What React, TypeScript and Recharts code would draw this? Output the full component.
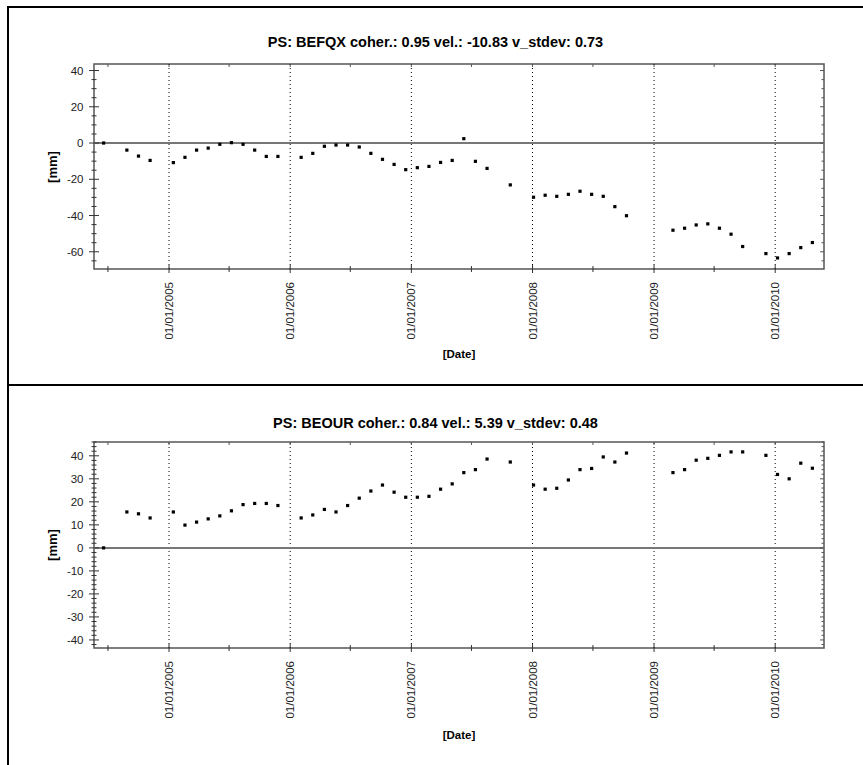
import { ScatterChart, Scatter, XAxis, YAxis, ReferenceLine, ReferenceArea } from "recharts";

// acquisition dates, shared by both PS points
const DATES = [
  "2004-06-18", "2004-08-27", "2004-10-01", "2004-11-05",
  "2005-01-14", "2005-02-18", "2005-03-25", "2005-04-29", "2005-06-03", "2005-07-08",
  "2005-08-12", "2005-09-16", "2005-10-21", "2005-11-25",
  "2006-02-03", "2006-03-10", "2006-04-14", "2006-05-19", "2006-06-23", "2006-07-28",
  "2006-09-01", "2006-10-06", "2006-11-10", "2006-12-15",
  "2007-01-19", "2007-02-23", "2007-03-30", "2007-05-04", "2007-06-08", "2007-07-13",
  "2007-08-17", "2007-10-26",
  "2008-01-04", "2008-02-08", "2008-03-14", "2008-04-18", "2008-05-23", "2008-06-27",
  "2008-08-01", "2008-09-05", "2008-10-10",
  "2009-02-27", "2009-04-03", "2009-05-08", "2009-06-12", "2009-07-17", "2009-08-21",
  "2009-09-25", "2009-12-04",
  "2010-01-08", "2010-02-12", "2010-03-19", "2010-04-23",
];

const BEFQX_MM = [
  0, -3.9, -7.2, -9.6,
  -10.8, -7.9, -3.9, -2.8, -0.7, 0.2, -0.7, -3.9, -7.4, -7.4,
  -7.9, -5.7, -1.8, -1.1, -1.1, -2.2, -5.7, -9.0, -11.8, -14.7,
  -13.6, -12.9, -10.7, -9.6, 2.4, -10.1, -14.0, -23.1,
  -29.9, -28.8, -29.4, -28.3, -26.6, -28.3, -29.4, -35.1, -40.1,
  -48.1, -47.0, -45.2, -44.6, -47.0, -50.3, -57.1, -61.0,
  -63.4, -61.0, -57.7, -54.9,
];

const BEOUR_MM = [
  0, 15.6, 14.8, 13.0,
  15.6, 9.9, 11.2, 12.6, 13.9, 16.1, 18.8, 19.3, 19.3, 18.4,
  13.0, 14.3, 16.7, 15.6, 18.4, 21.6, 24.7, 27.3, 24.2, 22.0,
  22.0, 22.4, 25.5, 27.8, 32.7, 34.0, 38.6, 37.3,
  27.3, 25.5, 25.9, 29.5, 34.0, 34.5, 39.5, 37.3, 41.2,
  32.7, 34.0, 38.1, 38.9, 40.2, 41.7, 41.7, 40.2,
  31.9, 30.0, 36.8, 34.6,
];

const YEAR_TICKS = ["2005-01-01", "2006-01-01", "2007-01-01", "2008-01-01", "2009-01-01", "2010-01-01"];
const MID_YEAR_TICKS = ["2004-07-01", "2005-07-01", "2006-07-01", "2007-07-01", "2008-07-01", "2009-07-01"];
const X_RANGE = ["2004-05-20", "2010-05-28"];

const BEFQX_TICKS = [40, 20, 0, -20, -40, -60];
const BEOUR_TICKS = [40, 30, 20, 10, 0, -10, -20, -30, -40];

const W = 863;
const PLOT_LEFT = 94;
const PLOT_RIGHT = 824;
const FONT = "'Liberation Sans', Arial, sans-serif";
const TICK_FONT = 11.5;

const toTs = (d: string) => Date.parse(d);
const xMajor = YEAR_TICKS.map(toTs);
const xMinor = MID_YEAR_TICKS.map(toTs);
const xDomain = X_RANGE.map(toTs) as [number, number];

function fmtDate(ts: number) {
  const d = new Date(ts);
  const p = (n: number) => String(n).padStart(2, "0");
  return `${p(d.getUTCDate())}/${p(d.getUTCMonth() + 1)}/${d.getUTCFullYear()}`;
}

function minorTicks(domain: [number, number], step: number, major: number[]) {
  const out: number[] = [];
  for (let v = Math.ceil(domain[0] / step) * step; v <= domain[1]; v += step) {
    if (!major.includes(v)) out.push(v);
  }
  return out;
}

interface PanelProps {
  top: number;
  height: number;
  plotTop: number;
  plotBottom: number;
  title: string;
  titleY: number;
  dateY: number;
  values: number[];
  yDomain: [number, number];
  yMajor: number[];
  yStep: number;
}

function Panel({ top, height, plotTop, plotBottom, title, titleY, dateY, values, yDomain, yMajor, yStep }: PanelProps) {
  const data = DATES.map((d, i) => ({ t: toTs(d), v: values[i] }));
  const yTicks = [...yMajor, ...minorTicks(yDomain, yStep, yMajor)].sort((a, b) => a - b);
  const xTicks = [...xMajor, ...xMinor].sort((a, b) => a - b);

  const renderYTick = (props: any) => {
    const { x, y, payload } = props;
    const major = yMajor.includes(payload.value);
    const len = major ? 5 : 2.5;
    return (
      <g>
        <line x1={x - len} x2={x + len} y1={y} y2={y} stroke="#333" strokeWidth={1} />
        <line x1={PLOT_RIGHT - (major ? 4 : 2.5)} x2={PLOT_RIGHT} y1={y} y2={y} stroke="#555" strokeWidth={1} />
        {major && (
          <text x={x - 10.5} y={y} textAnchor="end" dominantBaseline="central" fontSize={TICK_FONT} fill="#222" fontFamily={FONT}>
            {payload.value}
          </text>
        )}
      </g>
    );
  };

  const renderXTick = (props: any) => {
    const { x, y, payload } = props;
    const major = xMajor.includes(payload.value);
    const len = major ? 4 : 3;
    return (
      <g>
        <line x1={x} x2={x} y1={y - len} y2={y + len} stroke="#333" strokeWidth={1} />
        <line x1={x} x2={x} y1={plotTop} y2={plotTop + 3} stroke="#555" strokeWidth={1} />
        {major && (
          <text
            transform={`translate(${x}, ${y + 13}) rotate(-90)`}
            textAnchor="end"
            dominantBaseline="central"
            fontSize={TICK_FONT}
            fill="#222"
            fontFamily={FONT}
          >
            {fmtDate(payload.value)}
          </text>
        )}
      </g>
    );
  };

  const xAxisH = 60;
  return (
    <div style={{ position: "absolute", left: 0, top, width: W, height }}>
      <ScatterChart
        width={W}
        height={height}
        margin={{ top: plotTop, right: W - PLOT_RIGHT, bottom: height - plotBottom - xAxisH, left: PLOT_LEFT - 40 }}
      >
        <XAxis
          type="number"
          dataKey="t"
          domain={xDomain}
          allowDataOverflow
          ticks={xTicks}
          interval={0}
          tickSize={0}
          tickMargin={0}
          tickLine={false}
          axisLine={false}
          height={xAxisH}
          tick={renderXTick}
        />
        <YAxis
          type="number"
          dataKey="v"
          domain={yDomain}
          allowDataOverflow
          ticks={yTicks}
          interval={0}
          tickSize={0}
          tickMargin={0}
          tickLine={false}
          axisLine={false}
          width={40}
          tick={renderYTick}
        />
        {xMajor.map((ts) => (
          <ReferenceLine key={ts} x={ts} stroke="#000" strokeDasharray="1 3" strokeWidth={1} />
        ))}
        <ReferenceLine y={0} stroke="#777" strokeWidth={2} />
        <ReferenceArea
          x1={xDomain[0]}
          x2={xDomain[1]}
          y1={yDomain[0]}
          y2={yDomain[1]}
          fill="none"
          stroke="#555"
          strokeWidth={1.5}
          ifOverflow="visible"
        />
        <Scatter
          data={data}
          isAnimationActive={false}
          shape={(p: any) => <rect x={p.cx - 1.6} y={p.cy - 1.6} width={3.2} height={3.2} fill="#000" />}
        />
      </ScatterChart>
      <div
        style={{
          position: "absolute", left: 8, width: W - 8, top: titleY - 8, textAlign: "center",
          fontFamily: FONT, fontWeight: "bold", fontSize: 14.5, lineHeight: "16px", color: "#000",
        }}
      >
        {title}
      </div>
      <div
        style={{
          position: "absolute", left: 52, top: (plotTop + plotBottom) / 2,
          transform: "translate(-50%, -50%) rotate(-90deg)", whiteSpace: "nowrap",
          fontFamily: FONT, fontWeight: "bold", fontSize: 13, lineHeight: "15px", color: "#000",
        }}
      >
        [mm]
      </div>
      <div
        style={{
          position: "absolute", left: PLOT_LEFT, width: PLOT_RIGHT - PLOT_LEFT, top: dateY - 7, textAlign: "center",
          fontFamily: FONT, fontWeight: "bold", fontSize: 11.5, lineHeight: "14px", color: "#000",
        }}
      >
        [Date]
      </div>
    </div>
  );
}

export default function App() {
  return (
    <div style={{ position: "absolute", left: 0, top: 0, width: W, height: 765, background: "#fff", overflow: "hidden" }}>
      <Panel
        top={0}
        height={385}
        plotTop={64}
        plotBottom={269}
        title="PS: BEFQX coher.: 0.95 vel.: -10.83 v_stdev: 0.73"
        titleY={42}
        dateY={354}
        values={BEFQX_MM}
        yDomain={[-69.5, 43.6]}
        yMajor={BEFQX_TICKS}
        yStep={5}
      />
      <Panel
        top={385}
        height={380}
        plotTop={57}
        plotBottom={263}
        title="PS: BEOUR coher.: 0.84 vel.: 5.39 v_stdev: 0.48"
        titleY={38}
        dateY={350}
        values={BEOUR_MM}
        yDomain={[-43.5, 46]}
        yMajor={BEOUR_TICKS}
        yStep={2}
      />
      {/* outer frame */}
      <div style={{ position: "absolute", left: 7, top: 6, width: W - 7, height: 2, background: "#000" }} />
      <div style={{ position: "absolute", left: 7, top: 6, width: 2, height: 765 - 6, background: "#000" }} />
      <div style={{ position: "absolute", left: 7, top: 384, width: W - 7, height: 2, background: "#000" }} />
    </div>
  );
}
